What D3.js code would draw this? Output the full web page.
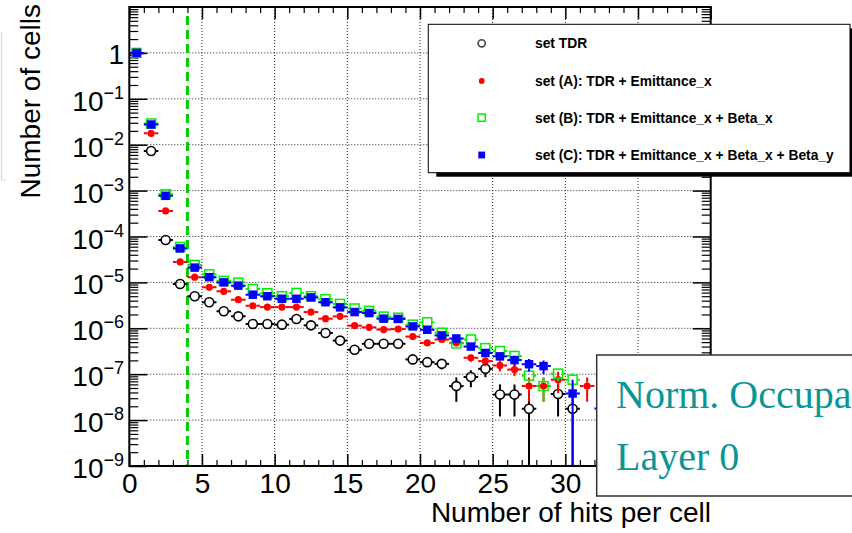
<!DOCTYPE html>
<html>
<head>
  <meta charset="utf-8">
  <title>occupancy</title>
  <script src="https://d3js.org/d3.v7.min.js"></script>
  <style>
    body { margin: 0; background: #fff; }
    text { font-family: "Liberation Sans", Arial, Helvetica, sans-serif; }
    text.serif { font-family: "Liberation Serif", "DejaVu Serif", serif; }
  </style>
</head>
<body>
  <svg width="852" height="533" id="mainsvg"></svg>
  <script>
    // bin centres (number of hits per cell)
    const binCenter = [0.5, 1.5, 2.5, 3.5, 4.5, 5.5, 6.5, 7.5, 8.5, 9.5, 10.5, 11.5, 12.5, 13.5, 14.5, 15.5, 16.5,
      17.5, 18.5, 19.5, 20.5, 21.5, 22.5, 23.5, 24.5, 25.5, 26.5, 27.5, 28.5, 29.5, 30.5, 31.5, 32.5];

    // values (null = no point)
    const setTDR = [0.98, 7.3e-3, 8.4e-5, 9.2e-6, 5.0e-6, 3.7e-6, 2.35e-6, 1.82e-6, 1.24e-6, 1.24e-6, 1.2e-6, 1.6e-6,
      1.16e-6, 7.9e-7, 5.4e-7, 3.4e-7, 4.6e-7, 4.6e-7, 4.6e-7, 2.1e-7, 1.83e-7, 1.68e-7, 5.5e-8, 8.7e-8, 1.31e-7,
      3.6e-8, 3.6e-8, 1.77e-8, null, 3.7e-8, 1.77e-8, null, null];
    const errTDR = [0, 0, 0, 0, 0, 0, 0, 0, 0, 0, 0, 0, 0, 0, 0, 5e-8, 6e-8, 6e-8, 6e-8, 4e-8, 4e-8, 4e-8, 3e-8, 3.5e-8,
      4.5e-8, 2.4e-8, 2.4e-8, 1.77e-8, 0, 2.5e-8, 1.77e-8, 0, 0];

    const setA = [0.98, 0.0177, 3.6e-4, 2.8e-5, 1.3e-5, 7.8e-6, 6.4e-6, 4.2e-6, 3.1e-6, 2.9e-6, 2.9e-6, 2.9e-6,
      2.26e-6, 1.62e-6, 1.82e-6, 1.14e-6, 1.05e-6, 9.4e-7, 9.6e-7, 6.6e-7, 4.8e-7, 5.7e-7, 4.8e-7, 2.28e-7, 1.93e-7,
      1.55e-7, 1.26e-7, 5.5e-8, 5.5e-8, 7.6e-8, null, 5.5e-8, null];
    const errA = [0, 0, 0, 0, 0, 0, 0, 0, 0, 0, 0, 0, 0, 0, 0, 0, 0, 0, 0, 6e-8, 6e-8, 6e-8, 6e-8, 4.5e-8, 4.5e-8,
      4e-8, 3.5e-8, 3e-8, 3e-8, 3.7e-8, 0, 3e-8, 0];

    const setB = [1.0, 0.029, 8.3e-4, 5.9e-5, 2.4e-5, 1.5e-5, 1.08e-5, 9.9e-6, 7.2e-6, 5.8e-6, 5.0e-6, 5.9e-6,
      5.0e-6, 4.3e-6, 3.4e-6, 2.7e-6, 2.4e-6, 1.8e-6, 1.7e-6, 1.2e-6, 1.35e-6, 8.0e-7, 4.7e-7, 5.7e-7, 3.7e-7,
      3.2e-7, 2.5e-7, 9.3e-8, 5.5e-8, 1.03e-7, 7.6e-8, null, null];
    const errB = [0, 0, 0, 0, 0, 0, 0, 0, 0, 0, 0, 0, 0, 0, 0, 0, 0, 0, 0, 0, 0, 0, 8e-8, 8e-8, 6e-8, 5e-8, 4.5e-8,
      2.6e-8, 3e-8, 3.2e-8, 2.8e-8, 0, 0];

    const setC = [1.0, 0.0275, 7.7e-4, 5.5e-5, 2.1e-5, 1.3e-5, 1.0e-5, 8.5e-6, 5.4e-6, 5.0e-6, 4.4e-6, 4.4e-6,
      4.7e-6, 3.7e-6, 2.86e-6, 2.26e-6, 2.15e-6, 1.62e-6, 1.6e-6, 1.1e-6, 9.3e-7, 7.0e-7, 6.0e-7, 4.0e-7, 2.9e-7,
      2.45e-7, 2.03e-7, 1.65e-7, 1.5e-7, null, 3.8e-8, null, 1.8e-8];
    const errC = [0, 0, 0, 0, 0, 0, 0, 0, 0, 0, 0, 0, 0, 0, 0, 0, 0, 0, 0, 0, 0, 0, 0, 0, 0, 5e-8, 5e-8, 5e-8,
      5e-8, 0, 3.8e-8, 0, 1.8e-8];

    const seriesNames = ['set TDR', 'set (A): TDR + Emittance_x', 'set (B): TDR + Emittance_x + Beta_x',
      'set (C): TDR + Emittance_x + Beta_x + Beta_y'];

    const xMajor = [0, 5, 10, 15, 20, 25, 30, 35, 40];
    const xLabelled = [0, 5, 10, 15, 20, 25, 30];
    const xMinor = [1, 2, 3, 4, 6, 7, 8, 9, 11, 12, 13, 14, 16, 17, 18, 19, 21, 22, 23, 24, 26, 27, 28, 29,
      31, 32, 33, 34, 36, 37, 38, 39];
    const yDecades = [1e-9, 1e-8, 1e-7, 1e-6, 1e-5, 1e-4, 1e-3, 1e-2, 1e-1, 1];
    const yExponents = ['−9', '−8', '−7', '−6', '−5', '−4', '−3', '−2', '−1', ''];
    const yMantissas = [2, 3, 4, 5, 6, 7, 8, 9];
    const cutLine = 4;
    const boxLines = ['Norm. Occupancy', 'Layer 0'];

    const svg = d3.select('#mainsvg');
    const frame = { left: 129.3, right: 710.7, top: 7, bottom: 466 };

    const xScale = d3.scaleLinear().domain([0, 40]).range([frame.left, frame.right]);
    const yScale = d3.scaleLog().domain([1e-9, 10]).range([frame.bottom, frame.top]);

    // faint border of a box cut by the left edge
    svg.append('path').attr('d', 'M1.5,32 V180 H6').attr('fill', 'none').attr('stroke', '#d8d8d8').attr('stroke-width', 1.2);

    svg.append('rect')
      .attr('x', frame.left).attr('y', frame.top)
      .attr('width', frame.right - frame.left).attr('height', frame.bottom - frame.top)
      .attr('fill', '#fff');

    // grid
    const grid = svg.append('g').attr('stroke', '#222').attr('stroke-width', 1).attr('stroke-dasharray', '1,2');
    xMajor.filter(d => d > 0 && d < 40).forEach(d => {
      grid.append('line').attr('x1', xScale(d)).attr('x2', xScale(d)).attr('y1', frame.top).attr('y2', frame.bottom);
    });
    yDecades.filter(d => d > 1e-9).forEach(d => {
      grid.append('line').attr('x1', frame.left).attr('x2', frame.right).attr('y1', yScale(d)).attr('y2', yScale(d));
    });

    const yMinor = [];
    yDecades.forEach(d => yMantissas.forEach(m => yMinor.push(d * m)));

    function cleanAxis(g) {
      g.select('.domain').remove();
      g.attr('font-family', null).attr('font-size', null);
    }

    // x axes (ticks point inwards)
    const xb = svg.append('g').attr('transform', `translate(0,${frame.bottom})`)
      .call(d3.axisBottom(xScale).tickValues(xMajor).tickSize(-12).tickPadding(7)
        .tickFormat(d => xLabelled.includes(d) ? d : ''));
    cleanAxis(xb);
    xb.selectAll('line').attr('stroke-width', 1.5);
    xb.selectAll('text').attr('font-size', 28).attr('fill', '#000');
    svg.append('g').attr('transform', `translate(0,${frame.bottom})`)
      .call(d3.axisBottom(xScale).tickValues(xMinor).tickSize(-6).tickFormat('')).call(cleanAxis)
      .selectAll('line').attr('stroke-width', 1.2);
    svg.append('g').attr('transform', `translate(0,${frame.top})`)
      .call(d3.axisTop(xScale).tickValues(xMajor).tickSize(-12).tickFormat('')).call(cleanAxis)
      .selectAll('line').attr('stroke-width', 1.5);
    svg.append('g').attr('transform', `translate(0,${frame.top})`)
      .call(d3.axisTop(xScale).tickValues(xMinor).tickSize(-6).tickFormat('')).call(cleanAxis)
      .selectAll('line').attr('stroke-width', 1.2);

    // y axes (log)
    [[d3.axisLeft, frame.left], [d3.axisRight, frame.right]].forEach(([axis, xpos]) => {
      svg.append('g').attr('transform', `translate(${xpos},0)`)
        .call(axis(yScale).tickValues(yDecades).tickSize(-18).tickFormat('')).call(cleanAxis)
        .selectAll('line').attr('stroke-width', 1.5);
      svg.append('g').attr('transform', `translate(${xpos},0)`)
        .call(axis(yScale).tickValues(yMinor).tickSize(-9).tickFormat('')).call(cleanAxis)
        .selectAll('line').attr('stroke-width', 1.2);
    });

    const yLab = svg.append('g');
    yDecades.forEach((d, i) => {
      const t = yLab.append('text').attr('x', 124).attr('text-anchor', 'end').attr('font-size', 28);
      if (yExponents[i] === '') {
        t.attr('y', yScale(d) + 11).text('1');
      } else {
        t.attr('y', yScale(d) + 12);
        t.append('tspan').text('10');
        t.append('tspan').attr('font-size', 18).attr('dy', -12).text(yExponents[i]);
      }
    });

    svg.append('text').attr('x', 711).attr('y', 522).attr('text-anchor', 'end').attr('font-size', 28)
      .text('Number of hits per cell');
    svg.append('text').attr('transform', 'translate(40,4) rotate(-90)').attr('text-anchor', 'end')
      .attr('font-size', 28).text('Number of cells');

    // cut line
    svg.append('line').attr('x1', xScale(cutLine)).attr('x2', xScale(cutLine)).attr('y1', 16).attr('y2', frame.bottom)
      .attr('stroke', '#00cc00').attr('stroke-width', 3).attr('stroke-dasharray', '9,5');

    // data
    svg.append('clipPath').attr('id', 'plotclip').append('rect')
      .attr('x', frame.left).attr('y', frame.top)
      .attr('width', frame.right - frame.left).attr('height', frame.bottom - frame.top);
    const plot = svg.append('g').attr('clip-path', 'url(#plotclip)');

    const styles = [
      { vals: setTDR, errs: errTDR, color: '#000', gap: 4.5, marker: 'ocircle' },
      { vals: setA, errs: errA, color: '#ff0000', gap: 3.5, marker: 'circle' },
      { vals: setB, errs: errB, color: '#00ee00', gap: 5, marker: 'osquare' },
      { vals: setC, errs: errC, color: '#0000ff', gap: 4, marker: 'square' }
    ];

    function drawMarker(g, type, cx, cy, color, scale) {
      if (type === 'ocircle') {
        g.append('circle').attr('cx', cx).attr('cy', cy).attr('r', 4.5 * scale)
          .attr('fill', 'none').attr('stroke', color).attr('stroke-width', 1.6);
      } else if (type === 'circle') {
        g.append('circle').attr('cx', cx).attr('cy', cy).attr('r', 3.6 * scale).attr('fill', color);
      } else if (type === 'osquare') {
        const s = 9 * scale;
        g.append('rect').attr('x', cx - s / 2).attr('y', cy - s / 2).attr('width', s).attr('height', s)
          .attr('fill', 'none').attr('stroke', color).attr('stroke-width', 1.5);
      } else {
        const s = 8.5 * scale;
        g.append('rect').attr('x', cx - s / 2).attr('y', cy - s / 2).attr('width', s).attr('height', s).attr('fill', color);
      }
    }

    styles.forEach(st => {
      const g = plot.append('g');
      binCenter.forEach((c, i) => {
        const v = st.vals[i];
        if (v == null) return;
        const cx = xScale(c), cy = yScale(v);
        const e = st.errs[i];
        const x0 = xScale(c - 0.5), x1 = xScale(c + 0.5);
        const yTop = e > 0 ? yScale(v + e) : cy;
        const yBot = e > 0 ? (v - e > 1e-9 ? yScale(v - e) : frame.bottom + 2) : cy;
        const bars = [[x0, cy, cx - st.gap, cy], [cx + st.gap, cy, x1, cy]];
        if (yTop < cy - st.gap) bars.push([cx, yTop, cx, cy - st.gap]);
        if (yBot > cy + st.gap) bars.push([cx, cy + st.gap, cx, yBot]);
        bars.forEach(b => {
          g.append('line').attr('x1', b[0]).attr('y1', b[1]).attr('x2', b[2]).attr('y2', b[3])
            .attr('stroke', st.color).attr('stroke-width', 2);
        });
        drawMarker(g, st.marker, cx, cy, st.color, 1);
      });
    });

    // frame
    svg.append('rect')
      .attr('x', frame.left).attr('y', frame.top)
      .attr('width', frame.right - frame.left).attr('height', frame.bottom - frame.top)
      .attr('fill', 'none').attr('stroke', '#000').attr('stroke-width', 2);

    // legend
    const leg = { x: 428.3, y: 24.3, w: 421.7, h: 148.4 };
    svg.append('rect').attr('x', leg.x + 8).attr('y', leg.y + 4).attr('width', leg.w).attr('height', leg.h).attr('fill', '#000');
    svg.append('rect').attr('x', leg.x).attr('y', leg.y).attr('width', leg.w).attr('height', leg.h)
      .attr('fill', '#fff').attr('stroke', '#000').attr('stroke-width', 1);
    const rowY = [43.3, 81, 117.7, 155];
    const legColors = ['#444', '#ff0000', '#00ee00', '#0000ff'];
    seriesNames.forEach((name, i) => {
      drawMarker(svg, styles[i].marker, 481.7, rowY[i], legColors[i], 0.8);
      svg.append('text').attr('x', 535).attr('y', rowY[i] + 4.8)
        .attr('font-size', 13.8).attr('font-weight', 'bold').text(name);
    });

    // overlay text box
    svg.append('rect').attr('x', 596.7).attr('y', 355).attr('width', 300).attr('height', 141)
      .attr('fill', '#fff').attr('stroke', '#333').attr('stroke-width', 1.5);
    boxLines.forEach((t, i) => {
      svg.append('text').attr('class', 'serif').attr('x', 616).attr('y', 408 + i * 62)
        .attr('font-size', 40).attr('fill', '#0a9696').text(t);
    });
  </script>
</body>
</html>
